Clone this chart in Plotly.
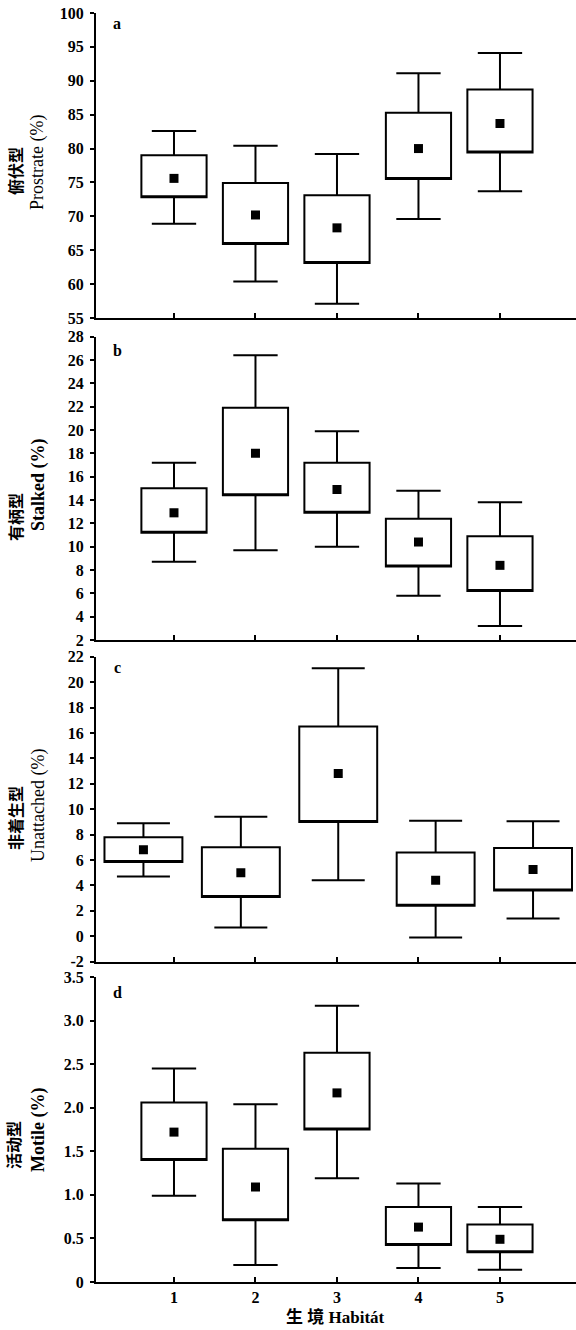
import plotly.graph_objects as go

# ---------------- data ----------------
habitats = [1, 2, 3, 4, 5]
habitat_labels = ["1", "2", "3", "4", "5"]

# panel a: Prostrate (%)
a_mean = [75.6, 70.2, 68.3, 80.0, 83.7]
a_box_lo = [72.8, 65.9, 63.1, 75.5, 79.4]
a_box_hi = [79.0, 74.9, 73.1, 85.3, 88.7]
a_wh_lo = [68.9, 60.4, 57.1, 69.6, 73.7]
a_wh_hi = [82.6, 80.4, 79.2, 91.1, 94.1]

# panel b: Stalked (%)
b_mean = [12.9, 18.0, 14.9, 10.4, 8.4]
b_box_lo = [11.2, 14.4, 12.9, 8.3, 6.2]
b_box_hi = [15.0, 21.9, 17.2, 12.4, 10.9]
b_wh_lo = [8.7, 9.7, 10.0, 5.8, 3.2]
b_wh_hi = [17.2, 26.4, 19.9, 14.8, 13.8]

# panel c: Unattached (%)
c_mean = [6.8, 5.0, 12.8, 4.4, 5.25]
c_box_lo = [5.85, 3.1, 9.0, 2.4, 3.6]
c_box_hi = [7.8, 7.0, 16.5, 6.6, 6.95]
c_wh_lo = [4.7, 0.7, 4.4, -0.1, 1.4]
c_wh_hi = [8.9, 9.4, 21.1, 9.1, 9.05]

# panel d: Motile (%)
d_mean = [1.72, 1.09, 2.17, 0.63, 0.49]
d_box_lo = [1.40, 0.71, 1.75, 0.425, 0.34]
d_box_hi = [2.06, 1.53, 2.63, 0.86, 0.66]
d_wh_lo = [0.99, 0.195, 1.19, 0.16, 0.14]
d_wh_hi = [2.45, 2.04, 3.17, 1.13, 0.86]

a_ticks = [55, 60, 65, 70, 75, 80, 85, 90, 95, 100]
a_ticktext = ["55", "60", "65", "70", "75", "80", "85", "90", "95", "100"]
b_ticks = [2, 4, 6, 8, 10, 12, 14, 16, 18, 20, 22, 24, 26, 28]
b_ticktext = ["2", "4", "6", "8", "10", "12", "14", "16", "18", "20", "22", "24", "26", "28"]
c_ticks = [-2, 0, 2, 4, 6, 8, 10, 12, 14, 16, 18, 20, 22]
c_ticktext = ["-2", "0", "2", "4", "6", "8", "10", "12", "14", "16", "18", "20", "22"]
d_ticks = [0, 0.5, 1.0, 1.5, 2.0, 2.5, 3.0, 3.5]
d_ticktext = ["0", "0.5", "1.0", "1.5", "2.0", "2.5", "3.0", "3.5"]

panel_letters = ["a", "b", "c", "d"]
ytitles_zh = ["俯伏型", "有柄型", "非着生型", "活动型"]
ytitles_en = ["Prostrate (%)", "Stalked (%)", "Unattached (%)", "Motile (%)"]
xtitle = "生 境 Habitát"

# ---------------- figure ----------------
SERIF = "Liberation Serif, Times New Roman, Noto Sans CJK SC, serif"
CJK = "Noto Sans CJK SC, sans-serif"

panels = [
    (a_mean, a_box_lo, a_box_hi, a_wh_lo, a_wh_hi, "x", "y"),
    (b_mean, b_box_lo, b_box_hi, b_wh_lo, b_wh_hi, "x2", "y2"),
    (c_mean, c_box_lo, c_box_hi, c_wh_lo, c_wh_hi, "x3", "y3"),
    (d_mean, d_box_lo, d_box_hi, d_wh_lo, d_wh_hi, "x4", "y4"),
]

fig = go.Figure()
for mean, lo, hi, wlo, whi, xa, ya in panels:
    fig.add_trace(go.Box(
        x=habitats, q1=lo, median=lo, q3=hi, lowerfence=wlo, upperfence=whi,
        width=0.8, whiskerwidth=0.68, boxpoints=False,
        fillcolor="white", line=dict(color="black", width=2),
        xaxis=xa, yaxis=ya, showlegend=False, hoverinfo="skip",
    ))
    fig.add_trace(go.Scatter(
        x=habitats, y=mean, mode="markers",
        marker=dict(symbol="square", size=9, color="black"),
        xaxis=xa, yaxis=ya, showlegend=False, hoverinfo="skip",
    ))
# dummy trace for the overlay tick axis of panel c
fig.add_trace(go.Scatter(x=[], y=[], xaxis="x5", yaxis="y3", showlegend=False))

W, H = 576, 1330
ML, MR, MT, MB = 96, 0, 13, 48
PW, PH = W - ML - MR, H - MT - MB
BOTTOM = H - MB


def pdom(top_px, bot_px):
    return [(BOTTOM - bot_px) / PH, (BOTTOM - top_px) / PH]


dom_a = pdom(13, 318)
dom_b = pdom(336.7, 640)
dom_c = pdom(656.7, 961.7)
dom_d = pdom(977, 1282)

XR = [0.043, 5.933]
XR_C = [0.513, 5.441]

tickfont = dict(family=SERIF, size=16, color="black", weight="bold")


def xaxis(anchor, rng, labels=False, ticks="inside", line=True):
    return dict(
        anchor=anchor, domain=[0, 1], range=rng,
        tickvals=habitats, ticktext=habitat_labels,
        showticklabels=labels, ticks=ticks, ticklen=5, tickwidth=2,
        tickcolor="black", showline=line, linecolor="black", linewidth=2,
        showgrid=False, zeroline=False, tickfont=tickfont, fixedrange=True,
    )


def yaxis(anchor, dom, rng, tv, tt):
    return dict(
        anchor=anchor, domain=dom, range=rng, tickvals=tv, ticktext=tt,
        ticks="outside", ticklen=4, tickwidth=2, tickcolor="black",
        showline=True, linecolor="black", linewidth=2, showgrid=False,
        zeroline=False, tickfont=tickfont, ticklabelstandoff=3,
    )


fig.update_layout(
    width=W, height=H,
    margin=dict(l=ML, r=MR, t=MT, b=MB, pad=0),
    paper_bgcolor="white", plot_bgcolor="white",
    xaxis=xaxis("y", XR),
    xaxis2=xaxis("y2", XR),
    xaxis3=dict(anchor="y3", domain=[0, 1], range=XR_C, showticklabels=False,
                ticks="", showline=False, showgrid=False, zeroline=False),
    xaxis5=dict(xaxis("y3", XR), overlaying="x3"),
    xaxis4=xaxis("y4", XR, labels=True),
    yaxis=yaxis("x", dom_a, [55, 100], a_ticks, a_ticktext),
    yaxis2=yaxis("x2", dom_b, [2, 28], b_ticks, b_ticktext),
    yaxis3=yaxis("x3", dom_c, [-2, 22], c_ticks, c_ticktext),
    yaxis4=yaxis("x4", dom_d, [0, 3.5], d_ticks, d_ticktext),
)


def px_x(px):
    return (px - ML) / PW


def px_y(py):
    return (BOTTOM - py) / PH


annotations = []
letter_y = [23, 350, 667, 992]
zh_pos = [(15, 171), (15, 517), (15, 818), (13, 1145)]
en_pos = [(38, 163), (38, 485), (38, 806), (38, 1130)]
en_bold = [False, True, False, True]
for i in range(4):
    annotations.append(dict(
        text=panel_letters[i], x=px_x(117), y=px_y(letter_y[i]),
        xref="paper", yref="paper", showarrow=False,
        xanchor="center", yanchor="middle",
        font=dict(family=SERIF, size=16, color="black", weight="bold"),
    ))
    annotations.append(dict(
        text=ytitles_zh[i], x=px_x(zh_pos[i][0]), y=px_y(zh_pos[i][1]),
        xref="paper", yref="paper", showarrow=False, textangle=-90,
        xanchor="center", yanchor="middle",
        font=dict(family=CJK, size=16, color="black", weight="bold"),
    ))
    annotations.append(dict(
        text=ytitles_en[i], x=px_x(en_pos[i][0]), y=px_y(en_pos[i][1]),
        xref="paper", yref="paper", showarrow=False, textangle=-90,
        xanchor="center", yanchor="middle",
        font=dict(family=SERIF, size=18, color="black",
                  weight="bold" if en_bold[i] else "normal"),
    ))
annotations.append(dict(
    text=xtitle, x=px_x(335), y=px_y(1329), xref="paper", yref="paper",
    showarrow=False, xanchor="center", yanchor="bottom",
    font=dict(family=SERIF, size=17, color="black", weight="bold"),
))
fig.update_layout(annotations=annotations)

fig.write_html("out.html")
